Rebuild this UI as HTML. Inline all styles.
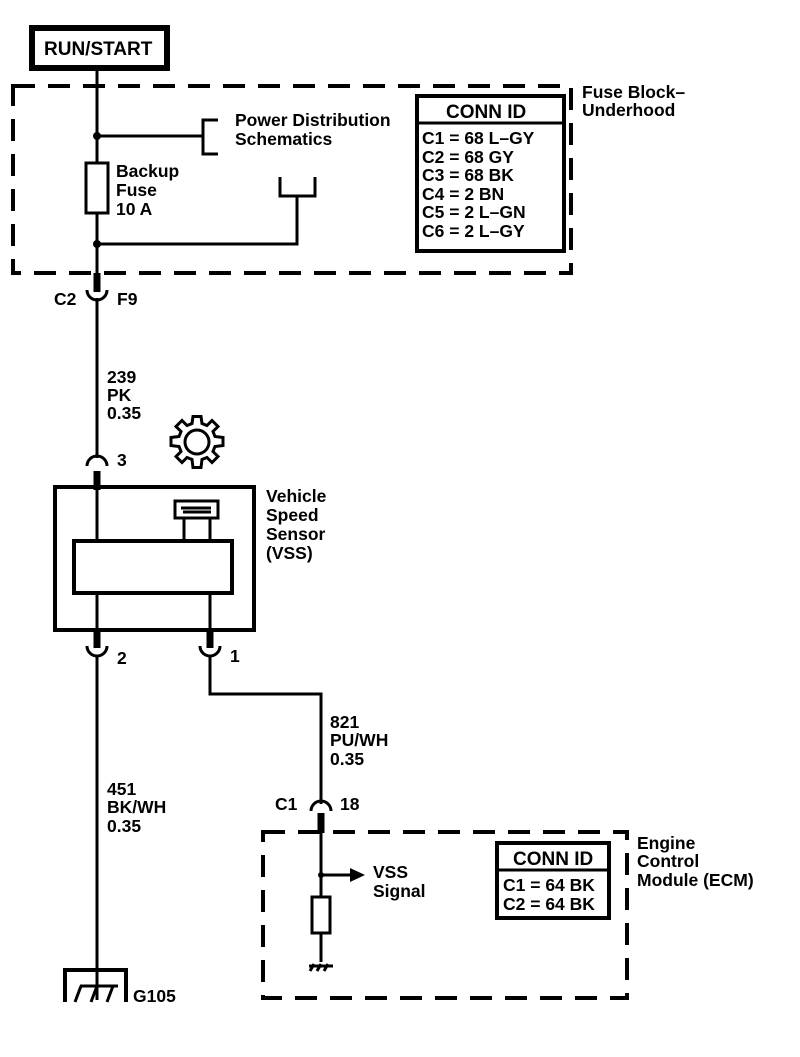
<!DOCTYPE html>
<html><head><style>
html,body{margin:0;padding:0;background:#fff}
svg text{font-family:"Liberation Sans",sans-serif;font-size:17.5px;font-weight:bold;fill:#000}
svg text.b{font-size:19px}
</style></head><body>
<svg width="800" height="1052" viewBox="0 0 800 1052" xmlns="http://www.w3.org/2000/svg">
<g fill="none" stroke="#000">
<rect x="32" y="28" width="135" height="40" stroke-width="6"/>
<rect x="13" y="86" width="558" height="187" stroke-width="4" stroke-dasharray="22,13"/>
<line x1="97" y1="68" x2="97" y2="275" stroke-width="3"/>
<rect x="86" y="163" width="22" height="50" stroke-width="3" fill="#fff"/>
<line x1="97" y1="136" x2="203" y2="136" stroke-width="3"/>
<polyline points="218,120 203,120 203,154 218,154" stroke-width="3"/>
<polyline points="280,177 280,196 315,196 315,177" stroke-width="3"/>
<polyline points="97,244 297,244 297,196" stroke-width="3"/>
<line x1="97" y1="273" x2="97" y2="292" stroke-width="7"/>
<path d="M87,290 A10,10 0 0 0 107,290" stroke-width="3"/>
<line x1="97" y1="298" x2="97" y2="458" stroke-width="3"/>
<path d="M87,466 A10,10 0 0 1 107,466" stroke-width="3"/>
<line x1="97" y1="471" x2="97" y2="490" stroke-width="7"/>
<rect x="55" y="487" width="199" height="143" stroke-width="4"/>
<line x1="97" y1="487" x2="97" y2="541" stroke-width="3"/>
<rect x="74" y="541" width="158" height="52" stroke-width="4"/>
<rect x="175" y="501" width="43" height="17" stroke-width="3"/>
<line x1="184" y1="518" x2="184" y2="541" stroke-width="3"/>
<line x1="210" y1="518" x2="210" y2="541" stroke-width="3"/>
<line x1="97" y1="593" x2="97" y2="630" stroke-width="3"/>
<line x1="210" y1="593" x2="210" y2="630" stroke-width="3"/>
<line x1="97" y1="630" x2="97" y2="648" stroke-width="7"/>
<line x1="210" y1="630" x2="210" y2="648" stroke-width="7"/>
<path d="M87,646 A10,10 0 0 0 107,646" stroke-width="3"/>
<path d="M200,646 A10,10 0 0 0 220,646" stroke-width="3"/>
<line x1="97" y1="655" x2="97" y2="1000" stroke-width="3"/>
<polyline points="210,655 210,694 321,694 321,804" stroke-width="3"/>
<path d="M311,811 A10,10 0 0 1 331,811" stroke-width="3"/>
<line x1="321" y1="813" x2="321" y2="833" stroke-width="7"/>
<rect x="263" y="832" width="364" height="166" stroke-width="4" stroke-dasharray="22,13"/>
<line x1="321" y1="832" x2="321" y2="962" stroke-width="3"/>
<line x1="321" y1="875" x2="350" y2="875" stroke-width="3"/>
<rect x="312" y="897" width="18" height="36" stroke-width="3" fill="#fff"/>
<polyline points="65,1002 65,970 126,970 126,1002" stroke-width="4"/>
<path d="M75,1002 L81,986 M91,1002 L97,986 M107,1002 L113,986 M80,986 L118,986" stroke-width="3"/>
<path d="M309,966 L333,966 M310,971 L314,964 M317,971 L321,964 M324,971 L328,964" stroke-width="3"/>
<g transform="translate(197,442)" stroke-width="3">
<circle r="12"/>
<path d="M-4,-27 L4,-27 L5,-20 L10,-18 L15,-23 L21,-17 L16,-12 L18,-7 L26,-6 L26,2 L18,3 L16,8 L21,13 L15,19 L10,14 L5,16 L4,24 L-4,24 L-5,16 L-10,14 L-15,19 L-21,13 L-16,8 L-18,3 L-26,2 L-26,-6 L-18,-7 L-16,-12 L-21,-17 L-15,-23 L-10,-18 L-5,-20 Z" transform="translate(0,1.5)"/>
</g>
<rect x="417" y="96" width="147" height="155" stroke-width="4"/>
<line x1="417" y1="123" x2="564" y2="123" stroke-width="3"/>
<rect x="497" y="843" width="112" height="75" stroke-width="4"/>
<line x1="497" y1="870" x2="609" y2="870" stroke-width="3"/>
</g>
<polygon points="350,868 365,875 350,882" fill="#000"/>
<circle cx="97" cy="136" r="4" fill="#000"/>
<circle cx="97" cy="244" r="4" fill="#000"/>
<circle cx="321" cy="875" r="3" fill="#000"/>
<path d="M181,508 L211,508 M183,512 L211,512" stroke="#000" stroke-width="3"/>
<text class="b" x="44" y="55">RUN/START</text>
<text x="235" y="126">Power Distribution</text>
<text x="235" y="145">Schematics</text>
<text x="116" y="177">Backup</text>
<text x="116" y="196">Fuse</text>
<text x="116" y="215">10 A</text>
<text x="582" y="98">Fuse Block–</text>
<text x="582" y="116">Underhood</text>
<text class="b" x="446" y="118">CONN ID</text>
<text x="422" y="144">C1 = 68 L–GY</text>
<text x="422" y="163">C2 = 68 GY</text>
<text x="422" y="181">C3 = 68 BK</text>
<text x="422" y="200">C4 = 2 BN</text>
<text x="422" y="218">C5 = 2 L–GN</text>
<text x="422" y="237">C6 = 2 L–GY</text>
<text x="54" y="305">C2</text>
<text x="117" y="305">F9</text>
<text x="107" y="383">239</text>
<text x="107" y="401">PK</text>
<text x="107" y="419">0.35</text>
<text x="117" y="466">3</text>
<text x="266" y="502">Vehicle</text>
<text x="266" y="521">Speed</text>
<text x="266" y="540">Sensor</text>
<text x="266" y="559">(VSS)</text>
<text x="117" y="664">2</text>
<text x="230" y="662">1</text>
<text x="330" y="728">821</text>
<text x="330" y="746">PU/WH</text>
<text x="330" y="765">0.35</text>
<text x="107" y="795">451</text>
<text x="107" y="813">BK/WH</text>
<text x="107" y="832">0.35</text>
<text x="275" y="810">C1</text>
<text x="340" y="810">18</text>
<text x="637" y="849">Engine</text>
<text x="637" y="867">Control</text>
<text x="637" y="886">Module (ECM)</text>
<text class="b" x="513" y="865">CONN ID</text>
<text x="503" y="891">C1 = 64 BK</text>
<text x="503" y="910">C2 = 64 BK</text>
<text x="373" y="878">VSS</text>
<text x="373" y="897">Signal</text>
<text x="133" y="1002">G105</text>
</svg>
</body></html>
